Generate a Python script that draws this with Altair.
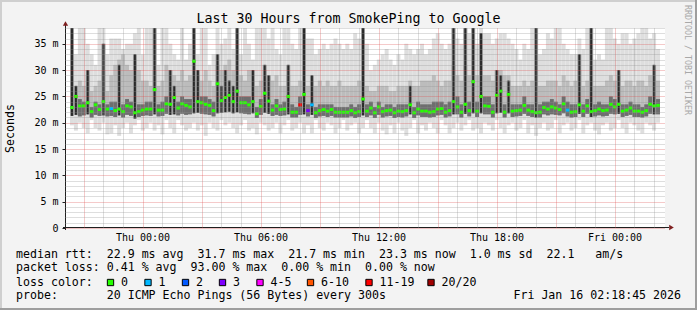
import altair as alt
import pandas as pd

MONO = "DejaVu Sans Mono"

TITLE = "Last 30 Hours from SmokePing to Google"
Y_TITLE = "Seconds"
WATERMARK = "RRDTOOL / TOBI OETIKER"
ROW_RTT = "median rtt:  22.9 ms avg  31.7 ms max  21.7 ms min  23.3 ms now  1.0 ms sd  22.1   am/s"
ROW_LOSS = "packet loss: 0.41 % avg  93.00 % max  0.00 % min  0.00 % now"
ROW_COLOR = "loss color:"
ROW_PROBE = "probe:       20 ICMP Echo Pings (56 Bytes) every 300s"
STAMP = "Fri Jan 16 02:18:45 2026"

loss_labels = ["0", "1", "2", "3", "4-5", "6-10", "11-19", "20/20"]
loss_colors = ["#26ff00", "#00b8ff", "#0059ff", "#7e00ff", "#ff00ff", "#ff5500", "#ff0000", "#a00000"]

# time axis: hours relative to Thu 00:00, 150 samples of 12 minutes
START_H = -3.6875
STEP_H = 0.2
N = 150

median_ms = [
    22.9, 25.0, 23.2, 23.2, 23.8, 22.1, 23.4, 22.5, 24.0, 22.6,
    22.7, 22.3, 22.6, 22.1, 23.2, 23.0, 21.9, 22.1, 22.4, 22.6,
    22.6, 26.3, 22.4, 22.4, 23.6, 23.5, 24.8, 22.8, 23.6, 23.3,
    23.0, 31.7, 24.0, 23.8, 23.5, 23.3, 22.3, 27.4, 24.2, 24.8,
    25.2, 24.0, 26.0, 23.8, 23.8, 23.4, 24.0, 21.7, 23.1, 25.6,
    24.1, 22.4, 23.2, 22.5, 22.6, 25.0, 22.0, 22.0, 23.4, 25.4,
    22.3, 23.4, 21.9, 22.3, 22.5, 22.2, 22.5, 22.0, 22.0, 22.0,
    22.0, 22.3, 21.9, 22.1, 24.5, 22.2, 22.8, 21.9, 23.0, 22.1,
    22.3, 22.4, 21.9, 22.2, 22.1, 22.3, 23.4, 21.9, 22.6, 22.2,
    22.2, 22.0, 22.1, 22.6, 22.7, 22.0, 22.3, 24.0, 23.0, 22.0,
    23.5, 22.3, 27.8, 22.2, 25.0, 23.2, 23.1, 22.0, 25.2, 26.0,
    22.0, 25.4, 22.2, 22.3, 22.4, 23.3, 22.4, 22.1, 21.9, 22.0,
    22.9, 22.6, 23.0, 22.8, 22.5, 23.6, 22.4, 22.0, 22.1, 23.4,
    22.2, 23.2, 22.1, 22.3, 22.6, 22.3, 22.4, 23.5, 23.0, 23.5,
    22.2, 22.4, 22.8, 22.2, 22.2, 22.0, 22.3, 23.5, 23.2, 23.3,
]

# steps whose median was drawn with a loss colour other than "0"
loss_at_step = {10: "1", 58: "11-19", 60: "3", 61: "1", 126: "1"}

# smoke envelope (ms): lowest ping, lower edge of dark band, top of dark band,
# top of medium smoke, highest ping
p_min = [
    19.5, 18.5, 20.0, 19.0, 18.0, 20.5, 19.0, 18.5, 20.0, 17.8,
    18.0, 19.5, 17.5, 19.0, 20.0, 18.0, 19.5, 20.5, 18.5, 19.0,
    20.0, 18.5, 19.5, 17.8, 20.5, 19.0, 18.0, 20.5, 19.5, 18.5,
    19.0, 20.0, 18.5, 19.5, 17.5, 20.0, 19.0, 18.5, 20.5, 19.5,
    20.0, 19.0, 18.0, 19.5, 20.5, 18.5, 19.0, 17.8, 20.0, 19.5,
    18.5, 19.0, 20.0, 18.0, 19.5, 20.5, 18.5, 19.0, 20.0, 18.0,
    19.5, 18.0, 20.5, 19.0, 18.5, 20.0, 19.5, 18.0, 19.0, 20.5,
    18.5, 19.5, 20.0, 18.0, 19.0, 20.5, 19.0, 18.0, 20.0, 18.5,
    17.8, 19.5, 18.0, 20.0, 18.5, 17.5, 19.0, 20.5, 18.0, 19.5,
    18.5, 20.0, 19.0, 18.0, 20.5, 19.5, 18.0, 19.0, 20.0, 18.5,
    19.5, 20.5, 18.5, 19.0, 18.0, 20.0, 19.5, 18.5, 20.5, 19.0,
    18.0, 19.5, 20.0, 18.5, 19.0, 20.5, 18.0, 19.5, 17.5, 19.0,
    20.0, 18.5, 19.0, 20.5, 18.0, 19.5, 20.0, 18.5, 19.0, 20.5,
    18.0, 19.5, 20.0, 18.5, 17.8, 19.5, 20.0, 18.5, 19.0, 20.5,
    19.0, 18.0, 20.0, 19.5, 18.5, 18.0, 20.0, 19.5, 18.5, 20.0,
]
p_low = [
    21.3, 21.5, 21.2, 21.4, 21.6, 21.0, 21.5, 21.3, 21.4, 21.2,
    21.3, 21.1, 21.4, 21.0, 21.5, 21.3, 20.8, 21.1, 21.3, 21.4,
    21.3, 21.6, 21.2, 21.3, 21.7, 21.5, 21.6, 21.4, 21.7, 21.5,
    21.6, 21.8, 21.9, 21.7, 21.6, 21.5, 21.2, 21.8, 21.9, 22.0,
    22.1, 21.8, 22.0, 21.8, 21.7, 21.6, 21.8, 20.9, 21.5, 21.9,
    21.7, 21.3, 21.5, 21.3, 21.4, 21.6, 21.0, 21.0, 21.5, 21.6,
    21.2, 21.5, 20.9, 21.2, 21.3, 21.1, 21.3, 21.0, 21.0, 21.0,
    21.0, 21.2, 20.9, 21.1, 21.4, 21.1, 21.4, 20.9, 21.5, 21.0,
    21.2, 21.3, 20.9, 21.1, 21.0, 21.2, 21.6, 20.9, 21.4, 21.1,
    21.1, 21.0, 21.1, 21.4, 21.5, 21.0, 21.2, 21.6, 21.6, 21.0,
    21.7, 21.2, 21.8, 21.1, 21.8, 21.6, 21.6, 21.0, 21.8, 21.9,
    21.0, 21.8, 21.1, 21.2, 21.3, 21.7, 21.3, 21.1, 21.0, 21.0,
    21.6, 21.4, 21.6, 21.5, 21.4, 21.8, 21.2, 21.0, 21.1, 21.7,
    21.1, 21.7, 21.1, 21.2, 21.4, 21.2, 21.3, 21.7, 21.6, 21.7,
    21.1, 21.3, 21.5, 21.1, 21.1, 21.0, 21.2, 21.7, 21.6, 21.6,
]
p_dark = [
    38, 27, 24.5, 24, 30, 23, 24, 23.5, 35, 23.5,
    24, 24, 31, 23.5, 24.5, 24, 33, 23.5, 23.5, 24,
    24, 38, 23.5, 24, 25, 30, 27, 24, 25, 24.5,
    24.5, 38, 30, 25, 25, 24.5, 24, 33, 27, 30,
    28, 27, 38, 25, 25, 25, 30, 23, 24.5, 31,
    29, 23.5, 24.5, 23.5, 24, 31, 23.5, 23, 25, 38,
    23.5, 29, 23, 23.5, 23.5, 23.5, 23.5, 23, 23, 23,
    23, 23.5, 23, 23.5, 38, 23.5, 24, 23, 24, 23,
    23.5, 23.5, 23, 23.5, 23.5, 23.5, 27, 23, 24, 23.5,
    23.5, 23.5, 24, 24, 24, 23.5, 24, 38, 25, 23.5,
    38, 24, 38, 24, 37, 25, 25, 23.5, 30, 29,
    23.5, 28, 23.5, 23.5, 23.5, 25, 23.5, 23.5, 38, 23.5,
    24, 24, 24.5, 24, 23.5, 25, 24, 23.5, 23.5, 33,
    23.5, 24.5, 38, 23.5, 24, 23.5, 23.5, 25, 24.5, 30,
    23.5, 23.5, 24, 23.5, 23.5, 23, 23.5, 25, 31, 24.5,
]
p_mid = [
    30, 27, 28, 27, 29, 26, 27, 28, 30, 26,
    29, 31, 32, 33, 31, 30, 32, 30, 28, 28,
    27, 30, 27, 28, 31, 30, 29, 28, 30, 28,
    29, 34, 29, 28, 30, 28, 27, 31, 30, 31,
    32, 30, 33, 29, 28, 30, 28, 27, 28, 30,
    29, 28, 29, 27, 27, 29, 27, 27, 28, 31,
    27, 28, 27, 28, 27, 28, 27, 27, 28, 27,
    27, 27, 27, 28, 30, 27, 26, 26, 27, 27,
    27, 26, 26, 27, 27, 27, 28, 27, 27, 28,
    28, 28, 29, 28, 27, 28, 28, 31, 29, 28,
    31, 29, 32, 29, 30, 29, 29, 28, 30, 30,
    29, 29, 27, 27, 27, 28, 27, 28, 30, 27,
    27, 28, 28, 28, 27, 29, 28, 27, 28, 30,
    27, 28, 31, 27, 27, 27, 28, 29, 28, 29,
    27, 28, 28, 27, 28, 28, 27, 29, 29, 28,
]
p_max = [
    38, 33, 38, 38, 35, 33, 31, 38, 38, 33,
    36, 36, 36, 34, 35, 35, 37, 38, 33, 38,
    38, 38, 31, 38, 38, 35, 33, 32, 38, 32,
    35, 38, 33, 38, 38, 31, 33, 38, 35, 36,
    38, 34, 38, 33, 38, 35, 32, 38, 38, 38,
    36, 38, 34, 33, 38, 38, 35, 34, 38, 38,
    36, 36, 33, 34, 35, 34, 35, 36, 35, 34,
    35, 34, 37, 36, 38, 35, 30, 31, 32, 33,
    34, 32, 31, 33, 32, 35, 34, 33, 34, 35,
    33, 34, 36, 37, 35, 34, 35, 38, 36, 35,
    38, 37, 38, 35, 38, 37, 37, 35, 36, 37,
    37, 36, 35, 34, 32, 35, 34, 38, 38, 33,
    34, 37, 36, 38, 38, 35, 34, 33, 33, 36,
    34, 38, 38, 32, 33, 32, 38, 38, 36, 35,
    37, 37, 35, 36, 37, 38, 38, 36, 37, 34,
]

t0 = [START_H + STEP_H * i for i in range(N)]
df = pd.DataFrame({
    "t0": t0,
    "t1": [t + STEP_H for t in t0],
    "tm": [t + STEP_H / 2 for t in t0],
    "median": median_ms,
    "loss": [loss_at_step.get(i, "0") for i in range(N)],
    "pmin": p_min, "plow": p_low, "pdark": p_dark, "pmid": p_mid, "pmax": p_max,
})

GRID_RED = "rgba(222,79,79,0.6)"
GRID_GREY = "rgba(143,143,143,0.6)"

x_scale = alt.Scale(domain=[START_H, START_H + STEP_H * N], nice=False, zero=False)
y_scale = alt.Scale(domain=[0, 38], nice=False, zero=True)

x_axis = alt.Axis(
    values=list(range(-3, 27)),
    grid=True,
    gridDash=[1, 1],
    gridColor={"condition": {"test": "datum.value % 3 === 0", "value": GRID_RED}, "value": GRID_GREY},
    domain=False,
    ticks=False,
    tickSize=0,
    labelExpr=("datum.value === 0 ? 'Thu 00:00' : datum.value === 6 ? 'Thu 06:00' : "
               "datum.value === 12 ? 'Thu 12:00' : datum.value === 18 ? 'Thu 18:00' : "
               "datum.value === 24 ? 'Fri 00:00' : ''"),
    labelOverlap=False,
    labelFlush=False,
    labelFont=MONO,
    labelFontSize=10,
    labelColor="black",
    labelPadding=4,
    title=None,
    zindex=1,
)
y_axis = alt.Axis(
    values=list(range(0, 39)),
    grid=True,
    gridDash=[1, 1],
    gridColor={"condition": {"test": "datum.value % 5 === 0", "value": GRID_RED}, "value": GRID_GREY},
    domain=False,
    ticks=True,
    tickSize=3,
    tickColor={"condition": {"test": "datum.value % 5 === 0", "value": "#1f1f1f"}, "value": "transparent"},
    labelExpr="datum.value % 5 === 0 ? (datum.value === 0 ? '0' : datum.value + ' m') : ''",
    labelOverlap=False,
    labelFlush=False,
    labelFont=MONO,
    labelFontSize=10,
    labelColor="black",
    labelPadding=4,
    title=Y_TITLE,
    titleFont=MONO,
    titleFontSize=11.6,
    titleFontWeight="normal",
    titleColor="black",
    titleAngle=270,
    titleX=-55,
    titleY=100,
    titleAlign="center",
    titleBaseline="middle",
    zindex=1,
)

X = alt.X("t0:Q", scale=x_scale, axis=x_axis)
XM = alt.X("tm:Q", scale=x_scale, axis=x_axis)
base = alt.Chart(df)

light = base.mark_rect(color="#dedede").encode(
    x=X, x2="t1", y=alt.Y("pmin:Q", scale=y_scale, axis=y_axis), y2="pmax")
mid = base.mark_rect(color="#bcbcbc").encode(
    x=X, x2="t1", y=alt.Y("plow:Q", scale=y_scale, axis=y_axis), y2="pmid")
# dark band around the median (full column width)
dark = base.mark_rect().encode(
    x=X, x2="t1", y=alt.Y("plow:Q", scale=y_scale, axis=y_axis), y2="pdark",
    color=alt.condition("datum.pdark >= 27", alt.value("#989898"), alt.value("#6e6e6e")),
)
# thin black core of the tall spikes
spike = base.transform_filter("datum.pdark >= 27").mark_bar(width=2, color="#2a2a2a").encode(
    x=XM, y=alt.Y("plow:Q", scale=y_scale, axis=y_axis), y2="pdark")
med = base.mark_tick(orient="horizontal", size=3.5, thickness=3, opacity=1).encode(
    x=XM,
    y=alt.Y("median:Q", scale=y_scale, axis=y_axis),
    color=alt.Color("loss:N", scale=alt.Scale(domain=loss_labels, range=loss_colors), legend=None),
)

layers = [light, mid, dark, spike, med]

# axis lines with arrows (RRDtool style)
one = pd.DataFrame({"k": [0]})
AX = "#1f1f1f"
layers.append(alt.Chart(one).mark_rule(color=AX, strokeWidth=1).encode(
    x=alt.value(0.5), y=alt.value(-6), y2=alt.value(202)))
layers.append(alt.Chart(one).mark_rule(color=AX, strokeWidth=1).encode(
    x=alt.value(-2), x2=alt.value(604), y=alt.value(199.5)))
layers.append(alt.Chart(one).mark_point(shape="triangle-up", filled=True, size=28, color="#7f1f1f", opacity=1).encode(
    x=alt.value(0.5), y=alt.value(-4.5)))
layers.append(alt.Chart(one).mark_point(shape="triangle-right", filled=True, size=28, color="#7f1f1f", opacity=1).encode(
    x=alt.value(606.5), y=alt.value(199.5)))

# frame
layers.append(alt.Chart(one).mark_rule(color="#cfcfcf", strokeWidth=2).encode(
    x=alt.value(-65), x2=alt.value(632), y=alt.value(-27)))
layers.append(alt.Chart(one).mark_rule(color="#cfcfcf", strokeWidth=2).encode(
    x=alt.value(-64), y=alt.value(-28), y2=alt.value(282)))
layers.append(alt.Chart(one).mark_rule(color="#9e9e9e", strokeWidth=2).encode(
    x=alt.value(-65), x2=alt.value(632), y=alt.value(281)))
layers.append(alt.Chart(one).mark_rule(color="#9e9e9e", strokeWidth=2).encode(
    x=alt.value(631), y=alt.value(-28), y2=alt.value(282)))

NBSP = "\u00a0"


def text_layer(s, x, y, size=11.6, align="left", color="black", angle=0):
    # non-breaking spaces keep the monospaced column layout in SVG
    return alt.Chart(pd.DataFrame({"s": [s.replace(" ", NBSP)]})).mark_text(
        font=MONO, fontSize=size, align=align, baseline="middle", color=color, angle=angle
    ).encode(x=alt.value(x), y=alt.value(y), text="s:N")


layers.append(text_layer(TITLE, 283.5, -9, size=13.3, align="center"))
layers.append(text_layer(WATERMARK, 622.3, 32, size=8.3, align="center", color="#a8a8a8", angle=90))
layers.append(text_layer(ROW_RTT, -49, 226.6))
layers.append(text_layer(ROW_LOSS, -49, 240.2))
layers.append(text_layer(ROW_COLOR, -49, 254.5))
layers.append(text_layer(ROW_PROBE, -49, 268.2))
layers.append(text_layer(STAMP, 616, 268.2, align="right"))

# loss colour legend boxes
box_centers = [110.5, 148, 185.5, 222.5, 260, 310.5, 369, 431]
for lab, col, cx in zip(loss_labels, loss_colors, box_centers):
    layers.append(alt.Chart(pd.DataFrame({"s": [lab]})).mark_square(
        size=40, fill=col, stroke="black", strokeWidth=1, opacity=1, fillOpacity=1
    ).encode(x=alt.value(cx - 65), y=alt.value(254.5)))
    layers.append(text_layer(lab, cx - 65 + 10.5, 254.5))

chart = alt.layer(*layers).properties(
    width=600,
    height=200,
    autosize=alt.AutoSizeParams(type="none"),
    padding={"left": 65, "top": 28, "right": 32, "bottom": 82},
    background="#f3f3f3",
).configure_view(fill="white", strokeWidth=0)

chart.save("out.html", embed_options={"renderer": "svg", "actions": False})
